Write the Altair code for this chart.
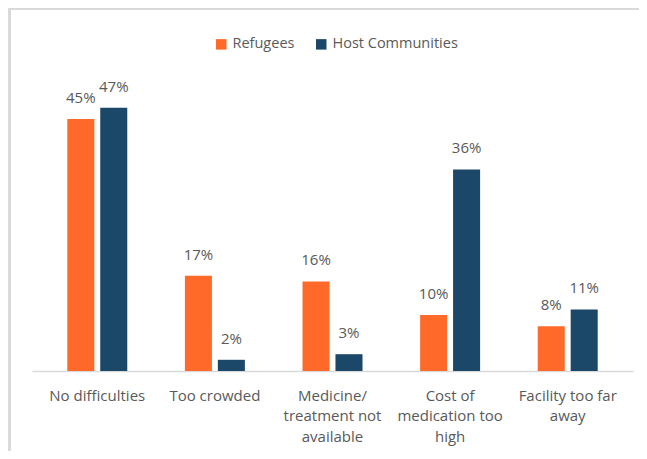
import altair as alt
import pandas as pd

categories = ["No difficulties", "Too crowded", "Medicine/|treatment not|available",
              "Cost of|medication too|high", "Facility too far|away"]
groups = ["Refugees", "Host Communities"]
refugees = [45, 17, 16, 10, 8]
hosts = [47, 2, 3, 36, 11]

rows = []
for c, r, h in zip(categories, refugees, hosts):
    rows.append({"cat": c, "group": "Refugees", "value": r})
    rows.append({"cat": c, "group": "Host Communities", "value": h})
df = pd.DataFrame(rows)
df["label"] = df["value"].astype(str) + "%"

FONT = "Open Sans"
GRAY = "#595959"
colors = ["#FF6A2B", "#1B4769"]

x = alt.X("cat:N", sort=categories, title=None,
          scale=alt.Scale(paddingInner=0.49, paddingOuter=0.30),
          axis=alt.Axis(labelAngle=0, ticks=False, labelFontSize=15, labelColor=GRAY,
                        labelFont=FONT, labelLineHeight=20.5, labelPadding=17,
                        domainColor="#d9d9d9", domainWidth=1.5,
                        labelExpr="split(datum.label, '|')", labelLimit=200))
xo = alt.XOffset("group:N", sort=groups, scale=alt.Scale(paddingInner=0.18, paddingOuter=0))
y = alt.Y("value:Q", scale=alt.Scale(domain=[0, 50]), axis=None)

bars = alt.Chart(df).mark_bar().encode(
    x=x, xOffset=xo, y=y,
    color=alt.Color("group:N", sort=groups,
                    scale=alt.Scale(domain=groups, range=colors),
                    legend=alt.Legend(title=None, orient="none", direction="horizontal",
                                      legendX=182, legendY=-54, symbolType="square",
                                      symbolSize=110, labelFontSize=14.5, labelColor=GRAY,
                                      labelFont=FONT, columnPadding=19, labelOffset=4,
                                      padding=0, symbolStrokeWidth=0)),
)
texts = alt.Chart(df).mark_text(baseline="middle", dy=-21, fontSize=15, color=GRAY,
                                font=FONT).encode(
    x=x, xOffset=xo, y=y, text="label:N")

frame_left = alt.Chart(df).mark_rule(color="#d9d9d9", strokeWidth=2).encode(
    x=alt.value(-22.5), y=alt.value(-83), y2=alt.value(360))
frame_top = alt.Chart(df).mark_rule(color="#d9d9d9", strokeWidth=2).encode(
    x=alt.value(-23.5), x2=alt.value(607), y=alt.value(-82))

chart = alt.layer(frame_left, frame_top, bars, texts).properties(
    width=601, height=280,
    padding={"left": 24, "top": 83, "right": 6, "bottom": 80},
    autosize=alt.AutoSizeParams(type="none"),
).configure_view(stroke=None)

chart.save("out.html", embed_options={"renderer": "svg", "actions": False})
